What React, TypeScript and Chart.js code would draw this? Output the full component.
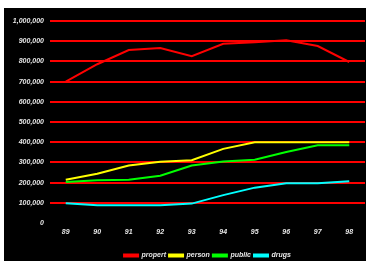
import React, { useEffect, useRef } from "react";
import { Chart, registerables } from "chart.js";

Chart.register(...registerables);

const years = ["89", "90", "91", "92", "93", "94", "95", "96", "97", "98"];
const propert = [700000, 786000, 856000, 866000, 826000, 887000, 895000, 905000, 876000, 797000];
const person = [214000, 244000, 285000, 303000, 311000, 367000, 400000, 400000, 400000, 400000];
const publicS = [203000, 212000, 214000, 234000, 285000, 305000, 313000, 351000, 385000, 385000];
const drugs = [98000, 88000, 88000, 88000, 96000, 138000, 175000, 197000, 197000, 207000];

const font = { family: "'Liberation Sans', Arial, sans-serif", size: 7, weight: "bold" as const, style: "italic" as const };
const textColor = "#e6e6e6";

export default function App() {
  const ref = useRef<HTMLCanvasElement>(null);
  useEffect(() => {
    if (!ref.current) return;
    const mk = (label: string, data: number[], color: string) => ({
      label,
      data,
      borderColor: color,
      backgroundColor: color,
      borderWidth: 2,
      pointRadius: 0,
      tension: 0,
    });
    const chart = new Chart(ref.current, {
      type: "line",
      data: {
        labels: years,
        datasets: [
          mk("propert", propert, "#ff0000"),
          mk("person", person, "#ffff00"),
          mk("public", publicS, "#00ff00"),
          mk("drugs", drugs, "#00ffff"),
        ],
      },
      options: {
        animation: false,
        responsive: false,
        layout: { padding: { top: 13, right: 1, left: 0, bottom: -8 } },
        plugins: {
          tooltip: { enabled: false },
          legend: {
            position: "bottom",
            fullSize: false,
            labels: {
              color: textColor,
              font,
              boxWidth: 14,
              boxHeight: 2,
              padding: 3,
            },
          },
        },
        scales: {
          x: {
            offset: true,
            afterFit: (s: any) => {
              s.height = 26;
            },
            grid: { display: false, drawTicks: false },
            border: { display: false },
            ticks: { color: textColor, font, padding: 5, maxRotation: 0 },
          },
          y: {
            min: 0,
            max: 1000000,
            afterFit: (s: any) => {
              s.width = 46;
            },
            grid: {
              color: (c: any) => (c.tick && c.tick.value === 0 ? "rgba(0,0,0,0)" : "#ff0000"),
              lineWidth: 2,
              drawTicks: false,
            },
            border: { display: false },
            ticks: {
              stepSize: 100000,
              color: textColor,
              font,
              padding: 6,
              callback: (v: any) => Number(v).toLocaleString("en-US"),
            },
          },
        },
      },
    });
    return () => chart.destroy();
  }, []);
  return (
    <div style={{ position: "absolute", left: 4, top: 8, width: 362, height: 253, background: "#000" }}>
      <canvas ref={ref} width={362} height={253} style={{ display: "block" }} />
    </div>
  );
}
